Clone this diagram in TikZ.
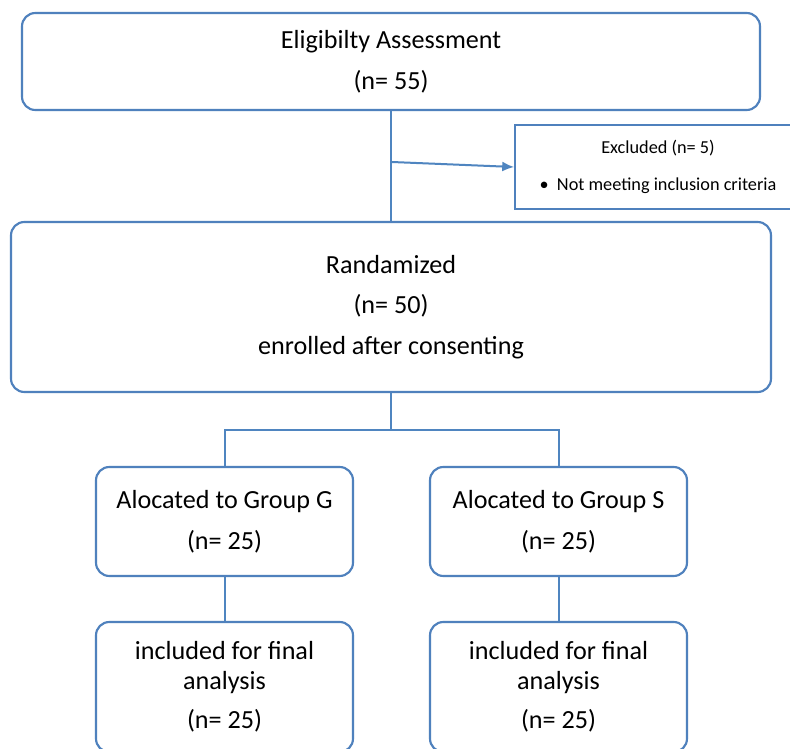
\documentclass[tikz,border=0pt]{standalone}
\usepackage{fontspec}
\setmainfont{Carlito}
\usetikzlibrary{arrows.meta}

\begin{document}
\begin{tikzpicture}[x=0.75pt,y=-0.75pt]
\definecolor{boxcol}{RGB}{79,129,189}
\definecolor{linecol}{RGB}{79,133,192}
\tikzstyle{myarr}=[-{Latex[length=9,width=7.5]}]
\tikzset{
box/.style={draw=boxcol,line width=1.6pt,rounded corners=10pt,fill=white,
  align=center,inner sep=0pt,font=\fontsize{19.6}{22.5}\selectfont},
exbox/.style={draw=boxcol,line width=1.2pt,fill=white,align=center,
  inner sep=0pt,font=\fontsize{13.7}{15}\selectfont},
link/.style={draw=linecol,line width=1.5pt},
}
\def\gw{192.75pt}  % width of group boxes (257px)

% FRAME
\clip (0,0) rectangle (790,749);
\fill[white] (0,0) rectangle (790,749);

% BOXES
\node[box,minimum width=553.5pt,minimum height=72.75pt] (elig) at (391,61.5)
  {Eligibilty Assessment\\[8pt](n= 55)};
\node[exbox,minimum width=214.5pt,minimum height=63pt] (excl) at (658,167)
  {Excluded (n= 5)\\[13pt]\textbullet\ \ Not meeting inclusion criteria};
\node[box,minimum width=570pt,minimum height=127.5pt] (rand) at (391,307)
  {Randamized\\[8pt](n= 50)\\[8pt]enrolled after consenting};
\node[box,minimum width=\gw,minimum height=81.75pt] (grpG) at (224.5,521.5)
  {Alocated to Group G\\[8pt](n= 25)};
\node[box,minimum width=\gw,minimum height=81.75pt] (grpS) at (558.5,521.5)
  {Alocated to Group S\\[8pt](n= 25)};
\node[box,minimum width=\gw,minimum height=97.5pt] (finG) at (224.5,687)
  {included for final\\analysis\\[7pt](n= 25)};
\node[box,minimum width=\gw,minimum height=97.5pt] (finS) at (558.5,687)
  {included for final\\analysis\\[7pt](n= 25)};

% CONNECTORS
\coordinate (split) at (392,162);
\coordinate (fork) at (391,430);
\draw[link] (elig.south) -- (rand.north);
\draw[link,myarr] (split) -- (excl.west);
\draw[link] (rand.south) -- (fork) -| (grpG.north);
\draw[link] (fork) -| (grpS.north);
\draw[link] (grpG.south) -- (finG.north);
\draw[link] (grpS.south) -- (finS.north);

\end{tikzpicture}
\end{document}
